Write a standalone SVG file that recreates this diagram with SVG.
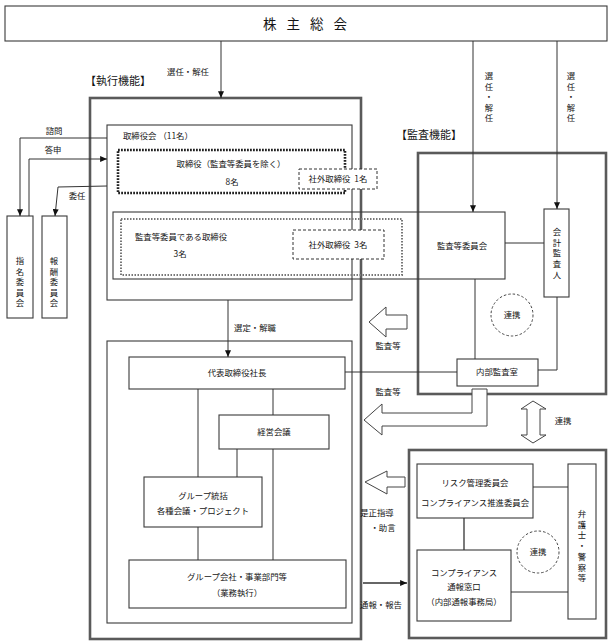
<svg xmlns="http://www.w3.org/2000/svg" width="613" height="644" viewBox="0 0 613 644">
<defs>
<style>
text{font-family:"Noto Sans CJK JP","Noto Sans",sans-serif;font-size:8.4px;fill:#151515;}
.c{text-anchor:middle;}
.title{font-size:13.5px;letter-spacing:10px;}
.head{font-size:11px;}
.box{fill:none;stroke:#3a3a3a;stroke-width:1.1;}
.wbox{fill:#fff;stroke:#3a3a3a;stroke-width:1.1;}
.thick{fill:none;stroke:#5a5a5a;stroke-width:2.6;}
.line{fill:none;stroke:#333;stroke-width:1;}
.dash{fill:#fff;stroke:#333;stroke-width:1;stroke-dasharray:3 2;}
.dot1{fill:none;stroke:#222;stroke-width:2.6;stroke-dasharray:1.8 1.2;}
.dot2{fill:none;stroke:#777;stroke-width:2;stroke-dasharray:1.5 1.5;}
.circ{fill:none;stroke:#444;stroke-width:1;stroke-dasharray:2.5 2;}
.hollow{fill:#fff;stroke:#444;stroke-width:1;}
</style>
<marker id="ah" viewBox="0 0 8 7" refX="8" refY="3.5" markerWidth="7" markerHeight="6" orient="auto" markerUnits="userSpaceOnUse">
<path d="M0,0 L8,3.5 L0,7 z" fill="#111"/>
</marker>
</defs>
<rect width="613" height="644" fill="#fff"/>

<g id="shareholders">
<rect class="box" x="5" y="6" width="602" height="35"/>
<text class="c title" x="310" y="29">株主総会</text>
</g>

<g id="exec-frame">
<rect class="thick" x="90" y="98" width="271" height="541"/>
<text class="head" x="85" y="85">【執行機能】</text>
</g>

<g id="audit-frame">
<rect class="thick" x="418" y="153" width="188" height="241"/>
<text class="head" x="396" y="139">【監査機能】</text>
</g>

<g id="compliance-frame">
<rect class="thick" x="409" y="450" width="197" height="188"/>
</g>

<g id="board">
<rect class="box" x="107" y="125" width="245" height="175"/>
<text x="123" y="139">取締役会 （11名）</text>
</g>

<g id="directors-non-audit">
<rect class="dot1" x="118" y="150" width="227" height="43"/>
<text class="c" x="231" y="167">取締役（監査等委員を除く）</text>
<text class="c" x="232" y="185">8名</text>
</g>

<g id="audit-committee-directors">
<rect class="box" x="113" y="212" width="392" height="67"/>
<rect class="dot2" x="121" y="219" width="281" height="56"/>
<text x="135" y="240">監査等委員である取締役</text>
<text class="c" x="180" y="257">3名</text>
</g>

<g id="outside-director-1">
<rect class="dash" x="299" y="169" width="78" height="20"/>
<text class="c" x="338" y="182">社外取締役 <tspan dx="2">1名</tspan></text>
</g>

<g id="outside-director-3">
<rect class="dash" x="293" y="230" width="91" height="29"/>
<text class="c" x="338" y="248">社外取締役 <tspan dx="2">3名</tspan></text>
</g>

<g id="audit-committee">
<text class="c" x="462" y="249">監査等委員会</text>
</g>

<g id="accounting-auditor">
<rect class="box" x="544" y="209" width="25" height="88"/>
<text class="c" x="557" y="235"><tspan x="557">会</tspan><tspan x="557" dy="10.7">計</tspan><tspan x="557" dy="10.7">監</tspan><tspan x="557" dy="10.7">査</tspan><tspan x="557" dy="10.7">人</tspan></text>
</g>

<g id="nomination-committee">
<rect class="box" x="7" y="216" width="26" height="102"/>
<text class="c" x="20" y="264"><tspan x="20">指</tspan><tspan x="20" dy="10.5">名</tspan><tspan x="20" dy="10.5">委</tspan><tspan x="20" dy="10.5">員</tspan><tspan x="20" dy="10.5">会</tspan></text>
</g>

<g id="compensation-committee">
<rect class="box" x="42" y="216" width="25" height="102"/>
<text class="c" x="54" y="264"><tspan x="54">報</tspan><tspan x="54" dy="10.5">酬</tspan><tspan x="54" dy="10.5">委</tspan><tspan x="54" dy="10.5">員</tspan><tspan x="54" dy="10.5">会</tspan></text>
</g>

<g id="exec-inner">
<rect class="box" x="107" y="341" width="245" height="282"/>
</g>

<g id="president">
<rect class="box" x="129" y="357" width="216" height="32"/>
<text class="c" x="237" y="376">代表取締役社長</text>
</g>

<g id="management-meeting">
<rect class="box" x="219" y="415" width="110" height="34"/>
<text class="c" x="274" y="435">経営会議</text>
</g>

<g id="group-oversight">
<rect class="box" x="144" y="477" width="118" height="50"/>
<text class="c" x="203" y="499">グループ統括</text>
<text class="c" x="203" y="514">各種会議・プロジェクト</text>
</g>

<g id="group-companies">
<rect class="box" x="129" y="560" width="217" height="48"/>
<text class="c" x="237" y="580">グループ会社・事業部門等</text>
<text class="c" x="237" y="596">（業務執行）</text>
</g>

<g id="internal-audit">
<rect class="wbox" x="457" y="359" width="81" height="27"/>
<text class="c" x="497" y="375">内部監査室</text>
</g>

<g id="risk-committee">
<rect class="box" x="417" y="464" width="116" height="54"/>
<text class="c" x="475" y="486">リスク管理委員会</text>
<text class="c" x="475" y="506">コンプライアンス推進委員会</text>
</g>

<g id="whistleblowing">
<rect class="box" x="417" y="550" width="94" height="71"/>
<text class="c" x="464" y="576">コンプライアンス</text>
<text class="c" x="464" y="590">通報窓口</text>
<text class="c" x="464" y="605">（内部通報事務局）</text>
</g>

<g id="lawyers-police">
<rect class="box" x="568" y="464" width="28" height="155"/>
<text class="c" x="582" y="517"><tspan x="582">弁</tspan><tspan x="582" dy="10.7">護</tspan><tspan x="582" dy="10.7">士</tspan><tspan x="582" dy="10.7">・</tspan><tspan x="582" dy="10.7">警</tspan><tspan x="582" dy="10.7">察</tspan><tspan x="582" dy="10.7">等</tspan></text>
</g>

<g id="cooperation-1">
<circle class="circ" cx="512" cy="315" r="21"/>
<text class="c" x="512" y="318">連携</text>
</g>

<g id="cooperation-2">
<circle class="circ" cx="538" cy="552" r="21"/>
<text class="c" x="538" y="555">連携</text>
</g>

<g id="connectors">
<line class="line" x1="221" y1="41" x2="221" y2="98" marker-end="url(#ah)"/>
<line class="line" x1="473" y1="41" x2="473" y2="212" marker-end="url(#ah)"/>
<line class="line" x1="557" y1="41" x2="557" y2="209" marker-end="url(#ah)"/>
<text class="c" x="188" y="75">選任・解任</text>
<text class="c" x="489" y="79"><tspan x="489">選</tspan><tspan x="489" dy="10.6">任</tspan><tspan x="489" dy="10.6">・</tspan><tspan x="489" dy="10.6">解</tspan><tspan x="489" dy="10.6">任</tspan></text>
<text class="c" x="571" y="79"><tspan x="571">選</tspan><tspan x="571" dy="10.6">任</tspan><tspan x="571" dy="10.6">・</tspan><tspan x="571" dy="10.6">解</tspan><tspan x="571" dy="10.6">任</tspan></text>

<polyline class="line" points="107,138 20,138 20,216" marker-end="url(#ah)"/>
<text class="c" x="54" y="134">諮問</text>
<polyline class="line" points="29,216 29,159 107,159" marker-end="url(#ah)"/>
<text class="c" x="53" y="153">答申</text>
<polyline class="line" points="107,186 58,187 55,216" marker-end="url(#ah)"/>
<text class="c" x="77" y="199">委任</text>

<line class="line" x1="505" y1="243" x2="544" y2="243"/>
<line class="line" x1="475" y1="279" x2="475" y2="359"/>
<polyline class="line" points="557,297 557,370 538,370"/>
<line class="line" x1="345" y1="372" x2="457" y2="372"/>

<line class="line" x1="228" y1="300" x2="228" y2="357" marker-end="url(#ah)"/>
<text class="c" x="255" y="331">選定・解職</text>

<line class="line" x1="198" y1="389" x2="198" y2="477"/>
<line class="line" x1="273" y1="389" x2="273" y2="415"/>
<line class="line" x1="237" y1="449" x2="237" y2="477"/>
<line class="line" x1="273" y1="449" x2="273" y2="560"/>
<line class="line" x1="198" y1="527" x2="198" y2="560"/>

<polygon class="hollow" points="369,322 386,307 386,315 407,315 407,329 386,329 386,337"/>
<text class="c" x="388" y="349">監査等</text>
<text class="c" x="388" y="395">監査等</text>
<polygon class="hollow" points="364,420 382,404 382,413 472,413 472,389 487,389 487,426 382,426 382,435"/>

<polygon class="hollow" points="533,401 546,409 540,409 540,435 546,435 533,443 521,435 527,435 527,409 521,409"/>
<text class="c" x="563" y="424">連携</text>

<polygon class="hollow" points="365,482 387,471 387,477 405,477 405,487 387,487 387,494"/>
<text class="c" x="377" y="516">是正指導</text>
<text class="c" x="383" y="531">・助言</text>

<line class="line" x1="363" y1="583" x2="407" y2="583" marker-end="url(#ah)" style="stroke-width:1.4"/>
<text class="c" x="381" y="608">通報・報告</text>

<line class="line" x1="533" y1="487" x2="568" y2="487"/>
<line class="line" x1="464" y1="518" x2="464" y2="550" style="stroke-width:1.3"/>
<line class="line" x1="511" y1="592" x2="568" y2="592"/>
</g>
</svg>
